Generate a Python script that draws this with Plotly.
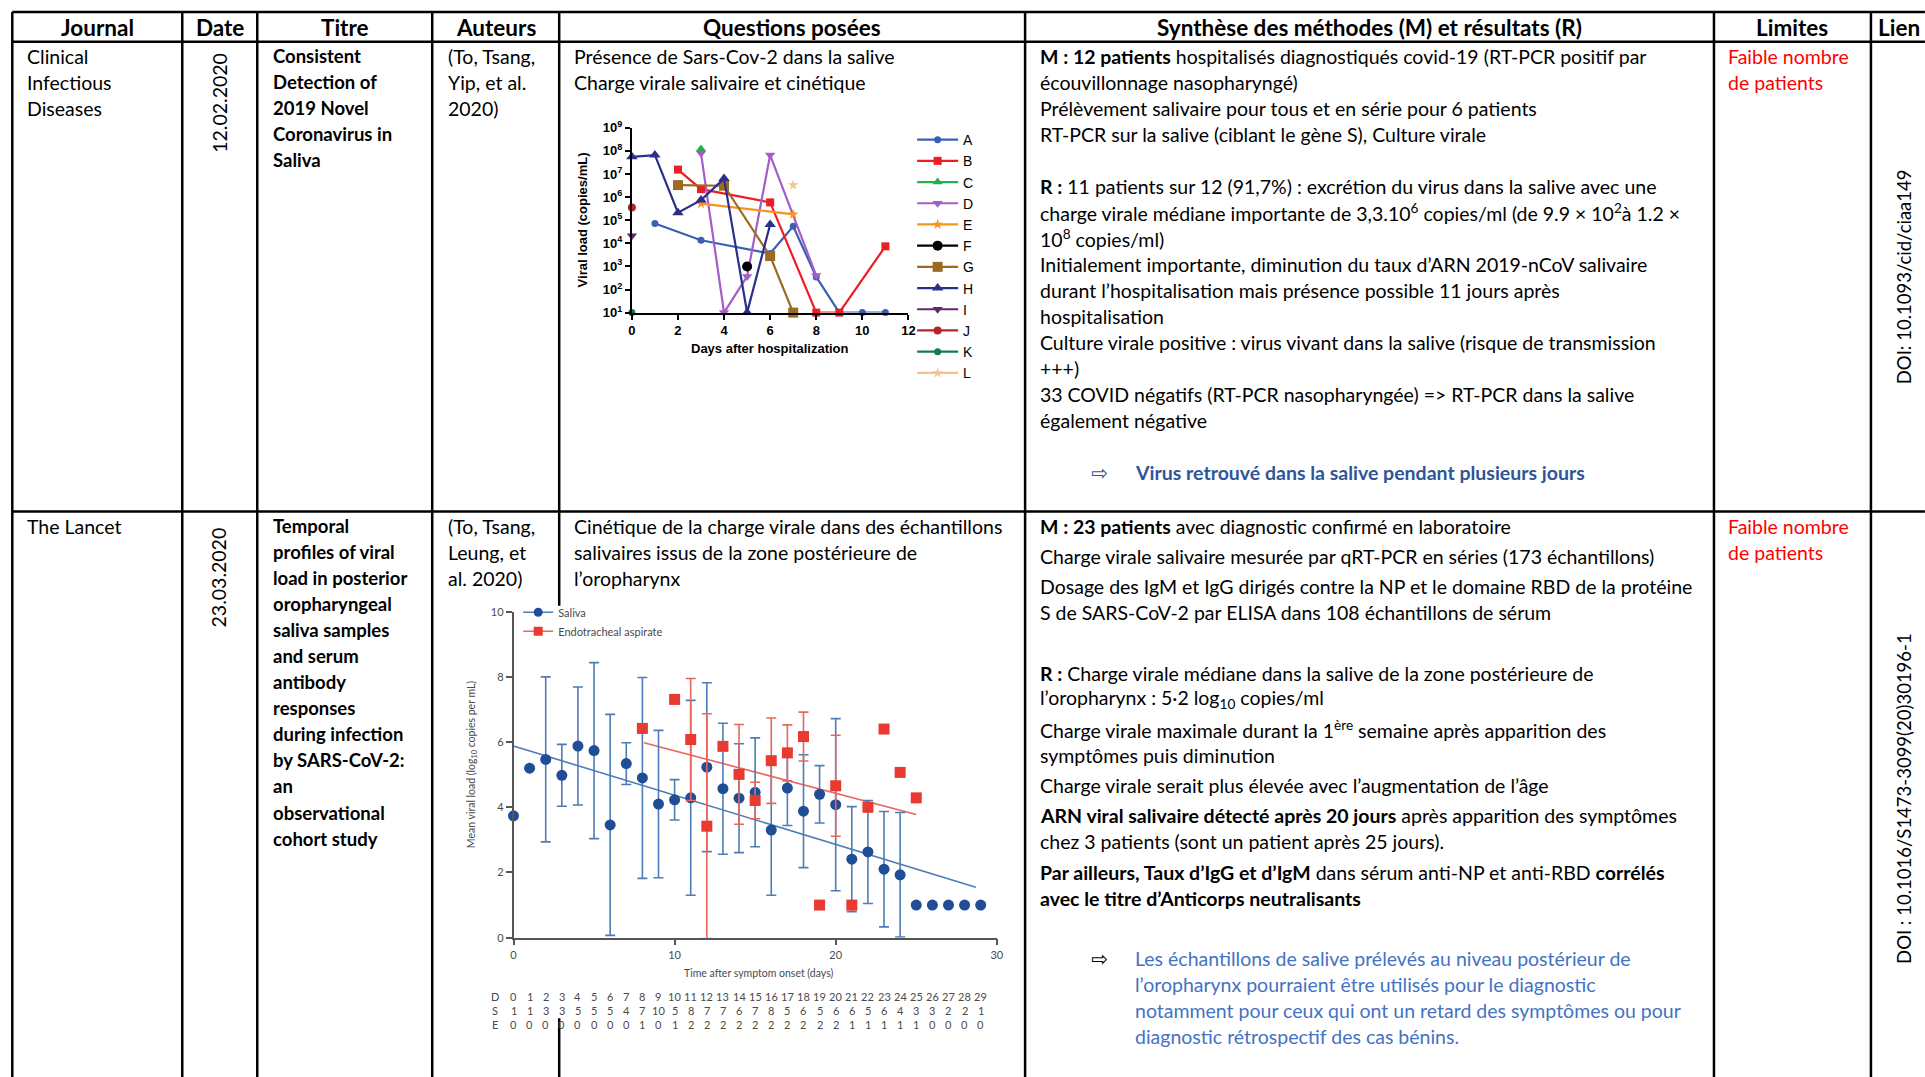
import plotly.graph_objects as go

# figure size and the placement of the figure inside the browser view
FIG_W, FIG_H = 1932, 1087
PAGE_W, PAGE_H = 1925, 1077
SX, OX = 0.9945, 3.7
SY, OY = 0.983, 9.1


def px(x):
    return (x - OX) / SX / FIG_W


def py(y):
    return 1 - (y - OY) / SY / FIG_H


# ---------------- table text ----------------
headers = ["Journal", "Date", "Titre", "Auteurs", "Questions posées",
           "Synthèse des méthodes (M) et résultats (R)", "Limites", "Lien"]

journals = [["Clinical", "Infectious", "Diseases"], ["The Lancet"]]
dates = ["12.02.2020", "23.03.2020"]
titles = [
    ["Consistent", "Detection of", "2019 Novel", "Coronavirus in", "Saliva"],
    ["Temporal", "profiles of viral", "load in posterior", "oropharyngeal",
     "saliva samples", "and serum", "antibody", "responses", "during infection",
     "by SARS-CoV-2:", "an", "observational", "cohort study"],
]
authors = [["(To, Tsang,", "Yip, et al.", "2020)"],
           ["(To, Tsang,", "Leung, et", "al. 2020)"]]
questions = [
    ["Présence de Sars-Cov-2 dans la salive", "Charge virale salivaire et cinétique"],
    ["Cinétique de la charge virale dans des échantillons",
     "salivaires issus de la zone postérieure de", "l’oropharynx"],
]
synthesis_1 = [
    "<b>M : 12 patients</b> hospitalisés diagnostiqués covid-19 (RT-PCR positif par",
    "écouvillonnage nasopharyngé)",
    "Prélèvement salivaire pour tous et en série pour 6 patients",
    "RT-PCR sur la salive (ciblant le gène S), Culture virale",
    "",
    "<b>R :</b> 11 patients sur 12 (91,7%) : excrétion du virus dans la salive avec une",
    "charge virale médiane importante de 3,3.10<sup>6</sup> copies/ml (de 9.9 × 10<sup>2</sup>à 1.2 ×",
    "10<sup>8</sup> copies/ml)",
    "Initialement importante, diminution du taux d’ARN 2019-nCoV salivaire",
    "durant l’hospitalisation mais présence possible 11 jours après",
    "hospitalisation",
    "Culture virale positive : virus vivant dans la salive (risque de transmission",
    "+++)",
    "33 COVID négatifs (RT-PCR nasopharyngée) => RT-PCR dans la salive",
    "également négative",
    "",
]
conclusion_1 = ["<b>Virus retrouvé dans la salive pendant plusieurs jours</b>"]
synthesis_2 = [
    ["<b>M : 23 patients</b> avec diagnostic confirmé en laboratoire"],
    ["Charge virale salivaire mesurée par qRT-PCR en séries (173 échantillons)"],
    ["Dosage des IgM et IgG dirigés contre la NP et le domaine RBD de la protéine",
     "S de SARS-CoV-2 par ELISA dans 108 échantillons de sérum"],
    [""],
    ["<b>R :</b> Charge virale médiane dans la salive de la zone postérieure de",
     "l’oropharynx : 5·2 log<sub>10</sub> copies/ml"],
    ["Charge virale maximale durant la 1<sup>ère</sup> semaine après apparition des",
     "symptômes puis diminution"],
    ["Charge virale serait plus élevée avec l’augmentation de l’âge"],
    ["<b>ARN viral salivaire détecté après 20 jours</b> après apparition des symptômes",
     "chez 3 patients (sont un patient après 25 jours)."],
    ["<b>Par ailleurs, Taux d’IgG et d’IgM</b> dans sérum anti-NP et anti-RBD <b>corrélés</b>",
     "<b>avec le titre d’Anticorps neutralisants</b>"],
    [""],
]
conclusion_2 = [
    "Les échantillons de salive prélevés au niveau postérieur de",
    "l’oropharynx pourraient être utilisés pour le diagnostic",
    "notamment pour ceux qui ont un retard des symptômes ou pour",
    "diagnostic rétrospectif des cas bénins.",
]
limits = [["Faible nombre", "de patients"], ["Faible nombre", "de patients"]]
dois = ["DOI: 10.1093/cid/ciaa149", "DOI : 10.1016/S1473-3099(20)30196-1"]

# ---------------- panel 1: viral load per patient ----------------
patients = ["A", "B", "C", "D", "E", "F", "G", "H", "I", "J", "K", "L"]
days_A = [1, 3, 6, 7, 8, 9, 10, 11]
load_A = [7.2e4, 1.35e4, 3.6e3, 5.5e4, 3.5e2, 10, 10, 10]
days_B = [2, 3, 6, 8, 9, 11]
load_B = [1.55e7, 2.2e6, 5.9e5, 10, 10, 7.4e3]
days_C = [3]
load_C = [1.2e8]
days_D = [3, 4, 5, 6, 8]
load_D = [7.8e7, 10, 3.7e2, 6.6e7, 4.0e2]
days_E = [3, 7]
load_E = [5.2e5, 1.8e5]
days_F = [5]
load_F = [9.9e2]
days_G = [2, 4, 6, 7]
load_G = [3.3e6, 3.1e6, 2.8e3, 10]
days_H = [0, 1, 2, 3, 4, 5, 6]
load_H = [5.5e7, 6.6e7, 2.1e5, 7.4e5, 6.3e6, 10, 6.5e4]
days_I = [0]
load_I = [2.1e4]
days_J = [0]
load_J = [3.5e5]
days_K = [0]
load_K = [10]
days_L = [7]
load_L = [3.3e6]
log_ticks = [1, 2, 3, 4, 5, 6, 7, 8, 9]
day_ticks_1 = [0, 2, 4, 6, 8, 10, 12]

# ---------------- panel 2: mean viral load by day ----------------
onset_days = list(range(30))
saliva_mean = [3.74, 5.20, 5.47, 4.98, 5.88, 5.74, 3.46, 5.34, 4.90, 4.10,
               4.23, 4.29, 5.23, 4.57, 4.28, 4.46, 3.30, 4.59, 3.88, 4.40,
               4.08, 2.41, 2.63, 2.10, 1.93, 1.0, 1.0, 1.0, 1.0, 1.0]
saliva_sd = [0, 0, 2.53, 0.95, 1.81, 2.70, 3.39, 0.64, 3.08, 2.26,
             0.62, 2.99, 2.59, 2.01, 1.67, 1.67, 2.0, 1.15, 1.73, 0.88,
             2.64, 1.61, 1.58, 1.77, 1.91, 0, 0, 0, 0, 0]
aspirate_days = [8, 10, 11, 12, 13, 14, 15, 16, 17, 18, 19, 20, 21, 22, 23, 24, 25]
aspirate_mean = [6.42, 7.31, 6.08, 3.42, 5.87, 5.01, 4.21, 5.43, 5.67, 6.17,
                 1.0, 4.66, 1.0, 4.0, 6.40, 5.07, 4.29]
aspirate_sd = [0, 0, 1.87, 3.45, 0, 1.53, 0.56, 1.31, 0.86, 0.75,
               0, 1.55, 0, 0, 0, 0, 0]
saliva_fit_x = [0, 28.7]
saliva_fit_y = [5.88, 1.55]
aspirate_fit_x = [8.1, 25]
aspirate_fit_y = [5.98, 3.78]
saliva_counts = [1, 1, 3, 3, 5, 5, 5, 4, 7, 10, 5, 8, 7, 7, 6, 7, 8, 5, 6, 5,
                 6, 6, 5, 6, 4, 3, 3, 2, 2, 1]
aspirate_counts = [0, 0, 0, 0, 0, 0, 0, 0, 1, 0, 1, 2, 2, 2, 2, 2, 2, 2, 2, 2,
                   2, 1, 1, 1, 1, 1, 0, 0, 0, 0]

# ---------------- styles ----------------
BODY_FONT = "Lato"
BODY = 19.5
TITLE_SIZE = 18.5
HEAD_SIZE = 22.5
DOI_SIZE = 18.5
LINE_H = 26.0
PARA_GAP = 4.2
RED = "#ff0000"
BLUE_TXT = "#2f5597"
BLUE_TXT2 = "#4472c4"

col_x = [12, 182, 257, 432, 559, 1025, 1714, 1871]
row_y = [12, 41.7, 511]

patient_style = {
    "A": ("#3b5fb3", "circle", 7),
    "B": ("#ee1c25", "square", 8),
    "C": ("#22b14c", "triangle-up", 9),
    "D": ("#a35dc9", "triangle-down", 9),
    "E": ("#f7941d", "star", 8),
    "F": ("#000000", "circle", 10),
    "G": ("#9c6b1f", "square", 10),
    "H": ("#2b2f8c", "triangle-up", 10),
    "I": ("#5e2a6b", "triangle-down", 9),
    "J": ("#b5262b", "circle", 8),
    "K": ("#137a4b", "circle", 7),
    "L": ("#f6c38b", "star", 8),
}
patient_data = {
    "A": (days_A, load_A), "B": (days_B, load_B), "C": (days_C, load_C),
    "D": (days_D, load_D), "E": (days_E, load_E), "F": (days_F, load_F),
    "G": (days_G, load_G), "H": (days_H, load_H), "I": (days_I, load_I),
    "J": (days_J, load_J), "K": (days_K, load_K), "L": (days_L, load_L),
}

fig = go.Figure()

for name in patients:
    d, v = patient_data[name]
    color, sym, size = patient_style[name]
    fig.add_trace(go.Scatter(
        x=d, y=v, name=name, mode="lines+markers",
        line=dict(color=color, width=2.2),
        marker=dict(color=color, symbol=sym, size=size),
        cliponaxis=False, xaxis="x", yaxis="y", legend="legend",
    ))

SAL_DOT = "#1f4d96"
SAL_LINE = "#4d7cb6"
ASP_DOT = "#e83a30"
ASP_LINE = "#e8675c"

fig.add_trace(go.Scatter(x=saliva_fit_x, y=saliva_fit_y, mode="lines",
                         line=dict(color=SAL_LINE, width=1.6), showlegend=False,
                         xaxis="x2", yaxis="y2"))
fig.add_trace(go.Scatter(x=aspirate_fit_x, y=aspirate_fit_y, mode="lines",
                         line=dict(color=ASP_LINE, width=1.6), showlegend=False,
                         xaxis="x2", yaxis="y2"))
fig.add_trace(go.Scatter(
    x=onset_days, y=saliva_mean, mode="markers", showlegend=False,
    marker=dict(color=SAL_DOT, size=11, symbol="circle"),
    error_y=dict(type="data", array=saliva_sd, color=SAL_LINE, thickness=1.6, width=5),
    cliponaxis=False, xaxis="x2", yaxis="y2"))
fig.add_trace(go.Scatter(
    x=aspirate_days, y=aspirate_mean, mode="markers", showlegend=False,
    marker=dict(color=ASP_DOT, size=11, symbol="square"),
    error_y=dict(type="data", array=aspirate_sd, color=ASP_LINE, thickness=1.6, width=5),
    cliponaxis=False, xaxis="x2", yaxis="y2"))
# legend entries for panel 2
fig.add_trace(go.Scatter(x=[None], y=[None], name="Saliva", mode="lines+markers",
                         line=dict(color=SAL_LINE, width=1.6),
                         marker=dict(color=SAL_DOT, size=9, symbol="circle"),
                         xaxis="x2", yaxis="y2", legend="legend2"))
fig.add_trace(go.Scatter(x=[None], y=[None], name="Endotracheal aspirate",
                         mode="lines+markers",
                         line=dict(color=ASP_LINE, width=1.6),
                         marker=dict(color=ASP_DOT, size=9, symbol="square"),
                         xaxis="x2", yaxis="y2", legend="legend2"))

# ---------------- annotations ----------------
ann = []


def text(x, y, s, size=BODY, color="black", anchor="left", angle=0,
         family=BODY_FONT, weight="normal"):
    ann.append(dict(x=px(x), y=py(y), xref="paper", yref="paper", text=s,
                    showarrow=False, xanchor=anchor, yanchor="middle",
                    textangle=angle,
                    font=dict(size=size, color=color, family=family, weight=weight)))


def lines(x, y0, rows, **kw):
    for i, s in enumerate(rows):
        if s:
            text(x, y0 + i * LINE_H, s, **kw)


# header
head_y = (row_y[0] + row_y[1]) / 2 + 0.5
for i, h in enumerate(headers):
    if i < len(col_x) - 1:
        text((col_x[i] + col_x[i + 1]) / 2, head_y, h, anchor="center",
             weight="bold", size=HEAD_SIZE)
    else:
        text(col_x[i] + 5, head_y, h, anchor="left", weight="bold", size=HEAD_SIZE)

for r in range(2):
    top = row_y[1] if r == 0 else row_y[2]
    y0 = top + 14.5
    lines(col_x[0] + 13, y0, journals[r])
    lines(col_x[2] + 14, y0, ["<b>%s</b>" % t for t in titles[r]], size=TITLE_SIZE)
    lines(col_x[3] + 14, y0, authors[r])
    lines(col_x[4] + 13, y0, questions[r])
    lines(col_x[6] + 12, y0, limits[r], color=RED)

# rotated dates and DOIs
text(218.5, 103, dates[0], angle=-90, anchor="center")
text(218.5, 577, dates[1], angle=-90, anchor="center")
text(1904, 276, dois[0], angle=-90, anchor="center", size=DOI_SIZE)
text(1904, 797, dois[1], angle=-90, anchor="center", size=DOI_SIZE)

# synthesis row 1
sx = col_x[5] + 13
y0 = row_y[1] + 14.5
lines(sx, y0, synthesis_1)
yc = y0 + len(synthesis_1) * LINE_H
text(1089, yc, "⇨", color=BLUE_TXT, size=20, family="DejaVu Sans")
lines(1133, yc, conclusion_1, color=BLUE_TXT)

# synthesis row 2 (paragraph spacing)
y = row_y[2] + 14.5
for para in synthesis_2:
    lines(sx, y, para)
    y += len(para) * LINE_H + PARA_GAP
text(1089, y, "⇨", color="black", size=20, family="DejaVu Sans")
lines(1133, y, conclusion_2, color=BLUE_TXT2)

# panel 1 axis titles
text(770, 348, "Days after hospitalization", size=13, anchor="center",
     family="Liberation Sans", weight="bold")
text(582, 220, "Viral load (copies/mL)", size=13, anchor="center", angle=-90,
     family="Liberation Sans", weight="bold")

# panel 2 axis titles
GREY = "#4a4a4a"
text(758, 971.5, "Time after symptom onset (days)", size=10.5, anchor="center",
     color=GREY)
text(472, 763, "Mean viral load (log<sub>10</sub> copies per mL)", size=10.5,
     anchor="center", angle=-90, color=GREY)

# panel 2 sample-count table aligned on the day axis
count_rows = [("D", onset_days), ("S", saliva_counts), ("E", aspirate_counts)]
for k, (lab, vals) in enumerate(count_rows):
    yy = 995.7 + k * 13.5
    text(495, yy, lab, size=11, anchor="center", color=GREY)
    for d, v in zip(onset_days, vals):
        ann.append(dict(x=d, y=py(yy), xref="x2", yref="paper", text=str(v),
                        showarrow=False, xanchor="center", yanchor="middle",
                        font=dict(size=11, color=GREY, family=BODY_FONT)))

# ---------------- table rules ----------------
shapes = []


def rule(x0, y0, x1, y1):
    shapes.append(dict(type="line", xref="paper", yref="paper",
                       x0=px(x0), y0=py(y0), x1=px(x1), y1=py(y1),
                       line=dict(color="black", width=2.5), layer="above"))


for yv in row_y:
    rule(col_x[0], yv, PAGE_W, yv)
for xv in col_x:
    if xv == col_x[4]:
        rule(xv, row_y[0], xv, 605)
        rule(xv, 1017, xv, PAGE_H)
    else:
        rule(xv, row_y[0], xv, PAGE_H)

# ---------------- layout ----------------
fig.update_layout(
    width=FIG_W, height=FIG_H, margin=dict(l=0, r=0, t=0, b=0),
    paper_bgcolor="white", plot_bgcolor="white",
    annotations=ann, shapes=shapes,
    xaxis=dict(domain=[px(631.7), px(908.3)], range=[0, 12], anchor="y",
               tickvals=day_ticks_1, showline=True, linecolor="black", linewidth=2,
               ticks="outside", ticklen=5, tickwidth=2, tickcolor="black",
               showgrid=False, zeroline=False,
               tickfont=dict(family="Liberation Sans", size=13, weight="bold", color="black")),
    yaxis=dict(domain=[py(312.3), py(127.7)], type="log", range=[1, 9], anchor="x",
               tickvals=[10 ** k for k in log_ticks],
               ticktext=["10<sup>%d</sup>" % k for k in log_ticks],
               showline=True, linecolor="black", linewidth=2,
               ticks="outside", ticklen=5, tickwidth=2, tickcolor="black",
               showgrid=False, zeroline=False,
               tickfont=dict(family="Liberation Sans", size=13, weight="bold", color="black")),
    xaxis2=dict(domain=[px(513.3), px(996.7)], range=[0, 30], anchor="y2",
                tickvals=[0, 10, 20, 30], showline=True, linecolor="#555555",
                linewidth=1.5, ticks="outside", ticklen=6, tickwidth=1.5,
                tickcolor="#555555", showgrid=False, zeroline=False,
                tickfont=dict(family=BODY_FONT, size=11, color=GREY)),
    yaxis2=dict(domain=[py(936.5), py(611)], range=[0, 10], anchor="x2",
                tickvals=[0, 2, 4, 6, 8, 10], showline=True, linecolor="#555555",
                linewidth=1.5, ticks="outside", ticklen=6, tickwidth=1.5,
                tickcolor="#555555", showgrid=False, zeroline=False,
                tickfont=dict(family=BODY_FONT, size=11, color=GREY)),
    legend=dict(x=px(912), y=py(124), xanchor="left", yanchor="top",
                bgcolor="rgba(0,0,0,0)", itemwidth=41,
                font=dict(family="Liberation Sans", size=14, color="black"),
                tracegroupgap=0),
    legend2=dict(x=px(518), y=py(597), xanchor="left", yanchor="top",
                 bgcolor="rgba(0,0,0,0)",
                 font=dict(family=BODY_FONT, size=11, color=GREY)),
    showlegend=True,
)

fig.write_html("out.html")
